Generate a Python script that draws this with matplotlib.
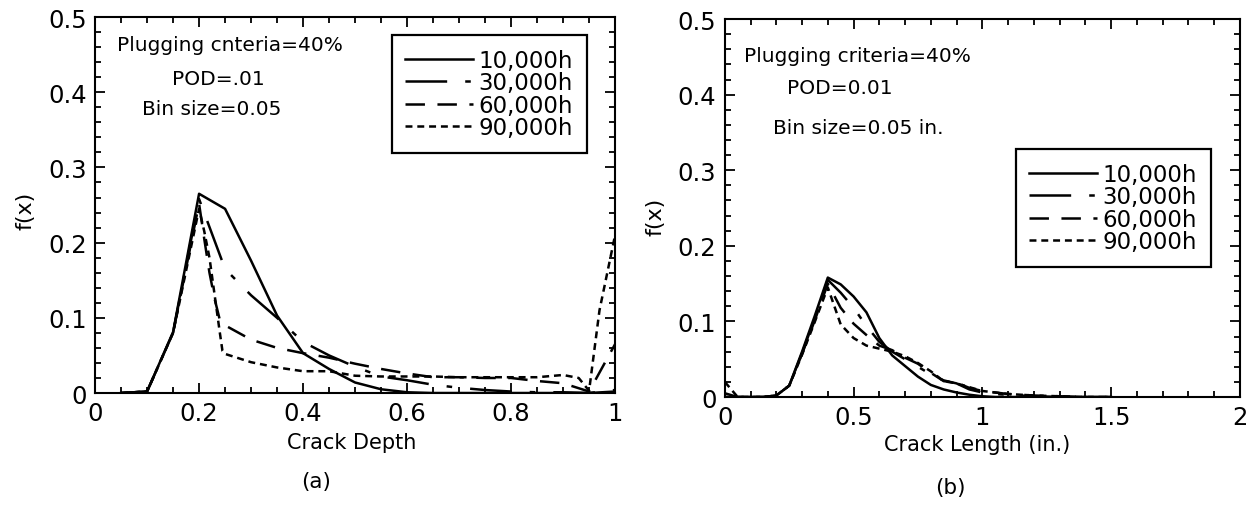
import matplotlib
matplotlib.use("Agg")
import matplotlib.pyplot as plt
from matplotlib.ticker import MultipleLocator

plt.rcParams["font.family"] = ["DejaVu Sans"]
plt.rcParams["font.size"] = 15
plt.rcParams["lines.scale_dashes"] = False

# legend labels
series_labels = ["10,000h", "30,000h", "60,000h", "90,000h"]

# (a) crack depth
depth_x_10k = [0.05, 0.1, 0.15, 0.2, 0.25, 0.3, 0.35, 0.4, 0.45, 0.5, 0.55, 0.6,
               0.65, 0.7, 0.75, 0.8, 0.85, 0.9, 0.95, 1.0]
depth_y_10k = [0.0, 0.002, 0.081, 0.265, 0.245, 0.176, 0.103, 0.053, 0.032, 0.014,
               0.005, 0.001, 0.0, 0.0, 0.0, 0.0, 0.0, 0.0, 0.0, 0.002]
depth_x_30k = [0.05, 0.1, 0.15, 0.2, 0.25, 0.3, 0.35, 0.4, 0.45, 0.5, 0.55, 0.6,
               0.65, 0.7, 0.75, 0.8, 0.85, 0.9, 0.95, 1.0]
depth_y_30k = [0.0, 0.002, 0.08, 0.258, 0.165, 0.13, 0.1, 0.068, 0.05, 0.035,
               0.022, 0.017, 0.011, 0.007, 0.004, 0.002, 0.001, 0.001, 0.0, 0.004]
depth_x_60k = [0.05, 0.1, 0.15, 0.2, 0.21, 0.22, 0.23, 0.24, 0.25, 0.3, 0.35, 0.4,
               0.45, 0.5, 0.55, 0.6, 0.65, 0.7, 0.75, 0.8, 0.85, 0.9, 0.95, 1.0]
depth_y_60k = [0.0, 0.002, 0.08, 0.252, 0.205, 0.16, 0.125, 0.097, 0.09, 0.071,
               0.06, 0.053, 0.047, 0.039, 0.032, 0.026, 0.021, 0.021, 0.02, 0.02,
               0.016, 0.013, 0.002, 0.065]
depth_x_90k = [0.05, 0.1, 0.15, 0.2, 0.21, 0.22, 0.23, 0.24, 0.245, 0.25, 0.3, 0.35,
               0.4, 0.45, 0.5, 0.55, 0.6, 0.65, 0.7, 0.75, 0.8, 0.85, 0.9, 0.93,
               0.95, 0.97, 1.0]
depth_y_90k = [0.0, 0.002, 0.08, 0.245, 0.215, 0.18, 0.13, 0.08, 0.056, 0.052,
               0.041, 0.034, 0.029, 0.029, 0.023, 0.022, 0.022, 0.022, 0.021, 0.021,
               0.021, 0.021, 0.024, 0.02, 0.003, 0.11, 0.21]

# (b) crack length, in.
length_x = [0.0, 0.05, 0.1, 0.15, 0.2, 0.25, 0.3, 0.35, 0.4, 0.45, 0.5, 0.55, 0.6,
            0.65, 0.7, 0.75, 0.8, 0.85, 0.9, 0.95, 1.0, 1.05, 1.1, 1.2, 1.3, 1.4, 1.5]
length_y_10k = [0.0, 0.0, 0.0, 0.0, 0.002, 0.015, 0.06, 0.108, 0.158, 0.149, 0.133,
                0.112, 0.078, 0.055, 0.041, 0.027, 0.016, 0.01, 0.006, 0.003, 0.001,
                0.0, 0.0, 0.0, 0.0, 0.0, 0.0]
length_y_30k = [0.0, 0.0, 0.0, 0.0, 0.002, 0.015, 0.058, 0.105, 0.155, 0.138, 0.118,
                0.094, 0.073, 0.06, 0.05, 0.04, 0.03, 0.022, 0.018, 0.01, 0.006,
                0.004, 0.003, 0.001, 0.0, 0.0, 0.0]
length_y_60k = [0.005, 0.0, 0.0, 0.0, 0.002, 0.015, 0.057, 0.102, 0.15, 0.118, 0.097,
                0.082, 0.068, 0.062, 0.052, 0.044, 0.032, 0.021, 0.019, 0.012, 0.008,
                0.006, 0.004, 0.002, 0.001, 0.0, 0.0]
length_y_90k = [0.02, 0.0, 0.0, 0.0, 0.002, 0.015, 0.056, 0.1, 0.145, 0.096, 0.078,
                0.068, 0.064, 0.06, 0.054, 0.045, 0.034, 0.021, 0.018, 0.013, 0.008,
                0.006, 0.004, 0.002, 0.001, 0.0, 0.0]

y_ticks = [0, 0.1, 0.2, 0.3, 0.4, 0.5]
y_tick_labels = ["0", "0.1", "0.2", "0.3", "0.4", "0.5"]
depth_ticks = [0, 0.2, 0.4, 0.6, 0.8, 1.0]
depth_tick_labels = ["0", "0.2", "0.4", "0.6", "0.8", "1"]
length_ticks = [0, 0.5, 1.0, 1.5, 2.0]
length_tick_labels = ["0", "0.5", "1", "1.5", "2"]

line_styles = [
    "-",
    (0, (30, 13, 4, 13)),
    (0, (14, 9)),
    (0, (5, 3.5)),
]


def style_axes(ax, xmax, xticks, xlabels, xminor):
    ax.set_xlim(0, xmax)
    ax.set_ylim(0, 0.5)
    ax.set_xticks(xticks)
    ax.set_xticklabels(xlabels)
    ax.set_yticks(y_ticks)
    ax.set_yticklabels(y_tick_labels)
    ax.xaxis.set_minor_locator(MultipleLocator(xminor))
    ax.yaxis.set_minor_locator(MultipleLocator(0.02))
    ax.tick_params(which="both", direction="in", top=True, right=True, width=1.3)
    ax.tick_params(which="major", length=7.5, pad=6, labelsize=17.5)
    ax.tick_params(which="minor", length=4)
    for sp in ax.spines.values():
        sp.set_linewidth(1.5)


def draw_legend(ax, anchor):
    leg = ax.legend(loc="upper right", bbox_to_anchor=anchor, fontsize=16.5,
                    frameon=True, fancybox=False, framealpha=1, edgecolor="black",
                    handlelength=2.95, handletextpad=0.25, labelspacing=-0.02,
                    borderpad=0.6, borderaxespad=0)
    leg.get_frame().set_linewidth(1.6)


def main():
    fig = plt.figure(figsize=(12.54, 5.06), dpi=100)
    ax1 = fig.add_axes([0.0758, 0.2213, 0.4147, 0.743])
    ax2 = fig.add_axes([0.578, 0.2134, 0.4107, 0.747])

    depth_series = [
        (depth_x_10k, depth_y_10k),
        (depth_x_30k, depth_y_30k),
        (depth_x_60k, depth_y_60k),
        (depth_x_90k, depth_y_90k),
    ]
    for (x, y), ls, lab in zip(depth_series, line_styles, series_labels):
        ax1.plot(x, y, color="black", linestyle=ls, linewidth=1.8, label=lab)

    length_series = [length_y_10k, length_y_30k, length_y_60k, length_y_90k]
    for y, ls, lab in zip(length_series, line_styles, series_labels):
        ax2.plot(length_x, y, color="black", linestyle=ls, linewidth=1.8, label=lab)

    style_axes(ax1, 1.0, depth_ticks, depth_tick_labels, 0.05)
    style_axes(ax2, 2.0, length_ticks, length_tick_labels, 0.1)

    draw_legend(ax1, (0.946, 0.952))
    draw_legend(ax2, (0.944, 0.656))

    ax1.text(0.26, 0.463, "Plugging cnteria=40%", ha="center", va="center", fontsize=14.5)
    ax1.text(0.2375, 0.418, "POD=.01", ha="center", va="center", fontsize=14.5)
    ax1.text(0.224, 0.379, "Bin size=0.05", ha="center", va="center", fontsize=14.5)

    ax2.text(0.516, 0.452, "Plugging criteria=40%", ha="center", va="center", fontsize=14.5)
    ax2.text(0.446, 0.409, "POD=0.01", ha="center", va="center", fontsize=14.5)
    ax2.text(0.52, 0.3565, "Bin size=0.05 in.", ha="center", va="center", fontsize=14.5)

    ax1.set_xlabel("Crack Depth", va="center")
    ax1.xaxis.set_label_coords(0.494, -0.13)
    ax1.set_ylabel("f(x)", va="center", fontsize=16)
    ax1.yaxis.set_label_coords(-0.133, 0.487)

    ax2.set_xlabel("Crack Length (in.)", va="center")
    ax2.xaxis.set_label_coords(0.49, -0.125)
    ax2.set_ylabel("f(x)", va="center", fontsize=16)
    ax2.yaxis.set_label_coords(-0.134, 0.48)

    fig.text(0.252, 0.047, "(a)", ha="center", va="center", fontsize=15.5)
    fig.text(0.758, 0.035, "(b)", ha="center", va="center", fontsize=15.5)

    fig.savefig("out.png", dpi=100)
    plt.close(fig)


if __name__ == "__main__":
    main()
